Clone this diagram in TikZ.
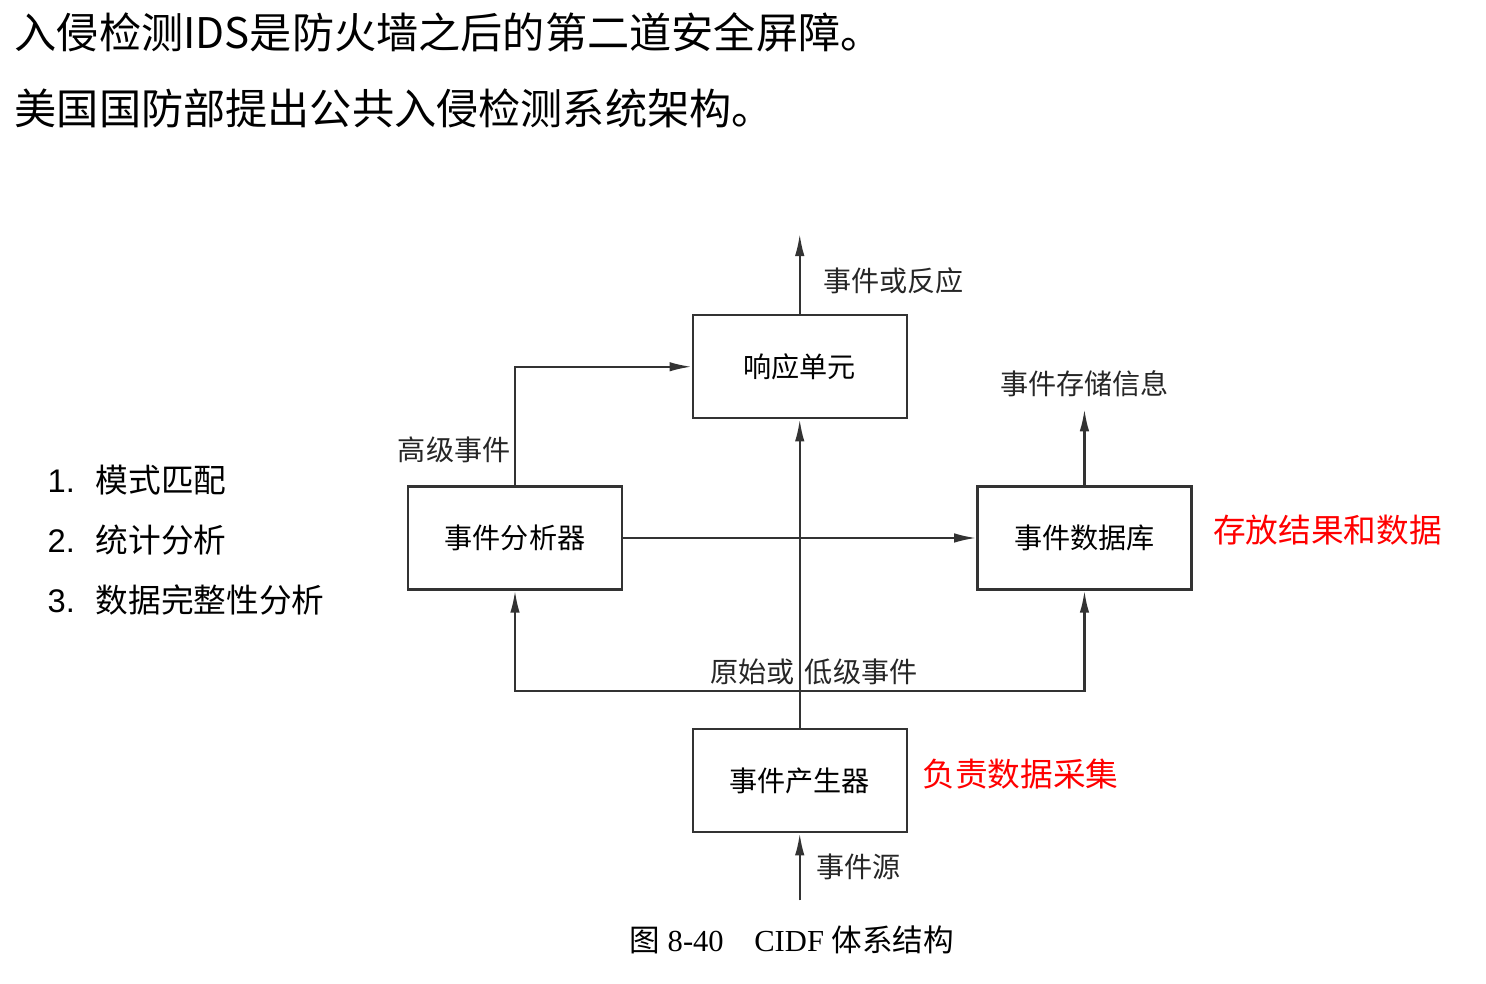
\documentclass[tikz,border=0pt]{standalone}
\usepackage{fontspec}
\setmainfont{Liberation Serif}
\newfontfamily\cjk{Noto Sans CJK SC}
\newfontfamily\numfont{Liberation Sans}
\usepackage{xcolor}
\usetikzlibrary{arrows.meta,positioning,calc}

\begin{document}
\begin{tikzpicture}[>={Latex[length=2.2mm,width=0.95mm]},
  block/.style={draw=black!80, line width=0.7pt, minimum width=2.14cm,
    minimum height=1.03cm, font=\cjk\fontsize{8}{10}\selectfont},
  lbl/.style={font=\cjk\fontsize{8}{10}\selectfont, text=black!85},
  note/.style={font=\cjk\fontsize{9.3}{11}\selectfont, text=red},
  item/.style={anchor=west, inner sep=0pt, font=\fontsize{9.3}{11}\selectfont},
  flow/.style={draw=black!80, line width=0.6pt, ->}
]
\useasboundingbox (0,0) rectangle (14.86,9.84);

% Slide text
\node[anchor=west, inner sep=0pt, font=\cjk\fontsize{12}{14}\selectfont] (t1) at (0.14,9.52)
  {入侵检测IDS是防火墙之后的第二道安全屏障。};
\node[anchor=west, inner sep=0pt, font=\cjk\fontsize{12}{14}\selectfont] (t2) at (0.14,8.76)
  {美国国防部提出公共入侵检测系统架构。};

\node[item] (m1) at (0.47,5.04) {\makebox[0.48cm][l]{\numfont 1.}\cjk 模式匹配};
\node[item] (m2) at (0.47,4.44) {\makebox[0.48cm][l]{\numfont 2.}\cjk 统计分析};
\node[item] (m3) at (0.47,3.84) {\makebox[0.48cm][l]{\numfont 3.}\cjk 数据完整性分析};

% CIDF blocks
\node[block] (ana) at (5.15,4.46) {事件分析器};
\node[block, right=3.53cm of ana] (db) {事件数据库};
\coordinate (mid) at ($(ana)!0.5!(db)$);
\node[block, above=1.185cm of mid] (resp) {响应单元};
\node[block, below=1.9cm of mid] (gen) {事件产生器};

\coordinate[above=0.8cm of resp.north] (out);
\coordinate[above=0.76cm of db.north] (store);
\coordinate[below=0.67cm of gen.south] (src);
\coordinate[above=0.37cm of gen.north] (bus);

\draw[flow] (resp.north) -- node[lbl, right=3pt, pos=0.42] {事件或反应} (out);
\draw[flow] (db.north) -- (store) node[lbl, above=0cm] {事件存储信息};
\draw[flow] (ana.north) |- node[lbl, pos=0.15, left=0pt, inner sep=1pt] {高级事件} (resp.west);
\draw[flow] (ana) -- (db);
\draw[flow] (gen) -- (resp);
\draw[flow] (bus) -| (ana.south);
\draw[flow] (bus) -| (db.south);
\node[lbl] (raw) at ($(bus)+(0.14,0.19)$) {原始或\hspace{3pt}低级事件};
\draw[flow] (src) -- node[lbl, right=1pt] {事件源} (gen.south);

\node[below=0.13cm of src, xshift=-0.08cm, font=\fontsize{8.7}{10}\selectfont] (cap)
  {{\cjk 图} 8-40\quad CIDF {\cjk 体系结构}};

% Red notes
\node[note, right=0.08cm of db, yshift=0.08cm] (n1) {存放结果和数据};
\node[note, right=0.02cm of gen, yshift=0.07cm] (n2) {负责数据采集};
\end{tikzpicture}
\end{document}
